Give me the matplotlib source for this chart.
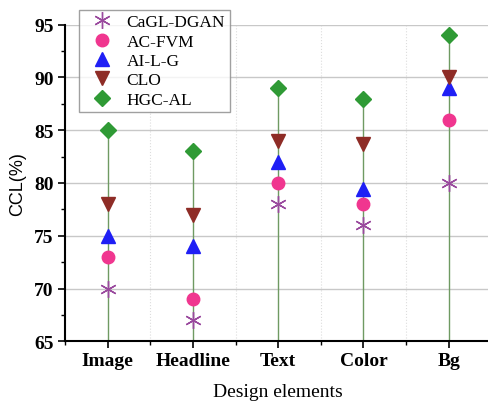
import matplotlib
matplotlib.use('Agg')
import matplotlib.pyplot as plt
from matplotlib.ticker import MultipleLocator

categories = ['Image', 'Headline', 'Text', 'Color', 'Bg']
cagl_dgan = [70, 67, 78, 76, 80]
ac_fvm = [73, 69, 80, 78, 86]
ai_l_g = [75, 74, 82, 79.4, 89]
clo = [78, 77, 84, 83.7, 90]
hgc_al = [85, 83, 89, 87.9, 94]

x = range(1, len(categories) + 1)

fig = plt.figure(figsize=(4.88, 4.02), dpi=100)
ax = fig.add_axes([0.133, 0.1485, 0.874, 0.788])

# drop lines from the top marker down to the axis
ax.vlines(x, 65, hgc_al, color='#6f9a62', lw=1, zorder=1)

ax.plot(x, cagl_dgan, ls='none', marker=(6, 2, 0), ms=12, mew=1, color='#9a4a9e', label='CaGL-DGAN', zorder=3)
ax.plot(x, ac_fvm, ls='none', marker='o', ms=9, color='#f0368f', label='AC-FVM', zorder=3)
ax.plot(x, ai_l_g, ls='none', marker='^', ms=10, color='#1f1ff5', label='AI-L-G', zorder=3)
ax.plot(x, clo, ls='none', marker='v', ms=10, color='#8e2c26', label='CLO', zorder=3)
ax.plot(x, hgc_al, ls='none', marker='D', ms=8, color='#2f9a35', label='HGC-AL', zorder=3)

ax.set_xlim(0.5, 5.5)
ax.set_ylim(65, 95)
ax.set_xticks(list(x))
ax.set_xticklabels(categories, fontfamily='Liberation Serif', fontweight='bold', fontsize=14)
ax.xaxis.set_minor_locator(MultipleLocator(0.5))
ax.yaxis.set_major_locator(MultipleLocator(5))
ax.yaxis.set_minor_locator(MultipleLocator(2.5))
for lab in ax.get_yticklabels():
    lab.set_fontfamily('Liberation Serif')
    lab.set_fontweight('bold')
    lab.set_fontsize(14)

ax.tick_params(which='major', direction='out', length=5, width=1.2, pad=3)
ax.tick_params(which='minor', direction='out', length=3, width=1)

ax.grid(axis='y', which='major', color='#c8c8c8', lw=1, zorder=0)
ax.grid(axis='x', which='minor', color='#dddddd', lw=0.8, ls=':', zorder=0)
ax.set_axisbelow(True)

for s in ['top', 'right']:
    ax.spines[s].set_visible(False)
for s in ['left', 'bottom']:
    ax.spines[s].set_linewidth(1.5)

ax.set_xlabel('Design elements', fontfamily='Liberation Serif', fontsize=14, labelpad=10)
ax.set_ylabel('CCL(%)', fontfamily='Liberation Sans', fontsize=13, labelpad=6)

leg = fig.legend(loc='upper left', bbox_to_anchor=(79 / 488, 1 - 11 / 402),
                 prop={'family': 'Liberation Serif', 'size': 12.5},
                 frameon=True, fancybox=False, edgecolor='#888888',
                 labelspacing=0.18, handletextpad=0.4, borderpad=0.25,
                 handlelength=2.1, borderaxespad=0)
leg.get_frame().set_linewidth(1)

fig.savefig('out.png', dpi=100)
